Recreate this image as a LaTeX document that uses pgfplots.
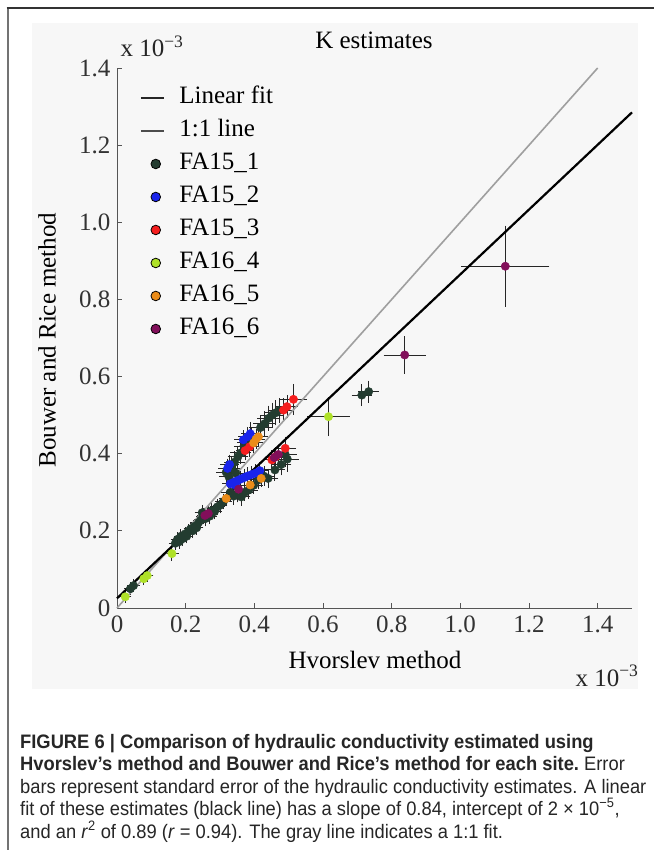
\documentclass[border=0pt]{standalone}
\usepackage{fontspec}
\setmainfont{Liberation Serif}
\newfontfamily\capfont[FakeStretch=0.94]{Liberation Sans}
\usepackage{pgfplots}
\pgfplotsset{compat=1.18}

\definecolor{panel}{RGB}{247,247,247}
\definecolor{axisgray}{RGB}{85,85,85}
\definecolor{cA}{RGB}{35,60,48}
\definecolor{cB}{RGB}{25,35,235}
\definecolor{cC}{RGB}{245,30,30}
\definecolor{cD}{RGB}{175,225,40}
\definecolor{cE}{RGB}{235,140,25}
\definecolor{cF}{RGB}{130,15,90}

% site data: Hvorslev K, Bouwer-Rice K, std errors (x 1e-3)
\pgfplotstableread{
x y ex ey
0.039 0.050 0.006 0.006
0.048 0.058 0.006 0.006
0.170 0.168 0.008 0.008
0.176 0.178 0.008 0.008
0.182 0.172 0.008 0.008
0.186 0.186 0.008 0.008
0.192 0.180 0.008 0.008
0.198 0.192 0.008 0.008
0.203 0.186 0.008 0.008
0.208 0.199 0.008 0.008
0.214 0.205 0.008 0.008
0.220 0.200 0.008 0.008
0.226 0.212 0.008 0.008
0.232 0.208 0.008 0.008
0.238 0.222 0.010 0.010
0.244 0.228 0.010 0.010
0.248 0.247 0.010 0.010
0.252 0.238 0.010 0.010
0.258 0.232 0.010 0.010
0.264 0.244 0.010 0.010
0.270 0.238 0.010 0.010
0.276 0.252 0.010 0.010
0.284 0.250 0.010 0.010
0.292 0.262 0.010 0.010
0.300 0.266 0.010 0.010
0.310 0.276 0.012 0.010
0.318 0.352 0.018 0.018
0.326 0.340 0.018 0.018
0.334 0.362 0.018 0.018
0.342 0.378 0.018 0.018
0.352 0.392 0.018 0.018
0.360 0.402 0.018 0.018
0.370 0.420 0.018 0.018
0.380 0.428 0.018 0.018
0.392 0.440 0.018 0.018
0.346 0.350 0.018 0.018
0.330 0.300 0.015 0.012
0.340 0.290 0.015 0.012
0.350 0.296 0.015 0.012
0.362 0.288 0.015 0.012
0.372 0.300 0.015 0.012
0.384 0.306 0.015 0.012
0.398 0.318 0.015 0.012
0.412 0.332 0.015 0.012
0.428 0.342 0.018 0.015
0.440 0.336 0.018 0.015
0.460 0.358 0.018 0.018
0.478 0.372 0.018 0.018
0.496 0.386 0.022 0.022
0.490 0.398 0.022 0.022
0.418 0.468 0.022 0.022
0.430 0.478 0.022 0.022
0.442 0.492 0.022 0.022
0.452 0.500 0.022 0.022
0.462 0.506 0.022 0.022
0.472 0.512 0.022 0.022
0.713 0.552 0.018 0.018
0.733 0.561 0.018 0.018
}\faA

\pgfplotstableread{
x y ex ey
0.322 0.362 0.015 0.015
0.328 0.372 0.015 0.015
0.368 0.436 0.015 0.015
0.388 0.452 0.015 0.020
0.380 0.444 0.015 0.015
0.330 0.322 0.012 0.012
0.340 0.326 0.012 0.012
0.350 0.330 0.012 0.012
0.360 0.334 0.012 0.012
0.370 0.338 0.012 0.012
0.380 0.342 0.012 0.012
0.392 0.346 0.012 0.012
0.404 0.350 0.012 0.012
0.416 0.356 0.012 0.012
0.345 0.318 0.012 0.012
}\faB

\pgfplotstableread{
x y ex ey
0.514 0.541 0.028 0.030
0.485 0.513 0.020 0.020
0.495 0.522 0.020 0.020
0.373 0.408 0.015 0.015
0.386 0.418 0.015 0.015
0.490 0.414 0.020 0.020
0.451 0.384 0.015 0.015
0.462 0.392 0.015 0.015
}\faC

\pgfplotstableread{
x y ex ey
0.024 0.029 0.006 0.006
0.078 0.076 0.006 0.006
0.088 0.084 0.006 0.006
0.160 0.141 0.008 0.008
0.616 0.496 0.050 0.040
}\faD

\pgfplotstableread{
x y ex ey
0.398 0.428 0.015 0.015
0.405 0.438 0.015 0.015
0.412 0.444 0.015 0.015
0.388 0.319 0.012 0.012
0.420 0.336 0.012 0.012
0.318 0.284 0.010 0.010
}\faE

\pgfplotstableread{
x y ex ey
1.131 0.886 0.117 0.095
0.838 0.656 0.050 0.038
0.354 0.308 0.012 0.012
0.470 0.398 0.015 0.015
0.458 0.390 0.015 0.015
0.266 0.245 0.010 0.010
0.256 0.240 0.010 0.010
}\faF

\pgfplotsset{
  site/.style={only marks, mark=*, mark size=4.2pt,
    mark options={fill=#1, draw=#1},
    error bars/.cd, x dir=both, x explicit, y dir=both, y explicit,
    error bar style={black!85, line width=0.9pt},
    error mark options={black!85, line width=0.9pt, mark size=4pt},
    /pgfplots/.cd},
  legsite/.style={only marks, mark=*, mark size=4.8pt,
    mark options={fill=#1, draw=black, line width=0.8pt},
    legend image code/.code={\draw[##1] plot coordinates {(15pt,0pt)}; \path (0pt,0pt) (38pt,0pt);}},
  shortline/.style={legend image code/.code={\draw[##1] (0pt,0pt) -- (23pt,0pt); \path (38pt,0pt);}},
}

\begin{document}
\begin{tikzpicture}
\path[use as bounding box] (0pt,0pt) rectangle (654pt,-850pt);
\fill[white] (0pt,0pt) rectangle (654pt,-850pt);
\fill[panel] (32pt,-23pt) rectangle (638pt,-689pt);
\draw[gray!90!black, line width=2pt] (7.5pt,-850pt) -- (7.5pt,-8pt);
\draw[black!80, line width=1.5pt] (6.5pt,-8pt) -- (654pt,-8pt);

\begin{axis}[
  at={(117pt,-608pt)}, anchor=south west,
  scale only axis, width=515pt, height=540pt,
  xmin=0, xmax=1.5, ymin=0, ymax=1.4,
  axis lines*=left,
  axis line style={-, draw=axisgray, line width=1pt},
  tick align=inside, major tick length=5pt,
  tick style={axisgray, line width=0.8pt},
  xtick={0,0.2,0.4,0.6,0.8,1.0,1.2,1.4},
  xticklabels={0,0.2,0.4,0.6,0.8,1.0,1.2,1.4},
  ytick={0,0.2,0.4,0.6,0.8,1.0,1.2,1.4},
  yticklabels={0,0.2,0.4,0.6,0.8,1.0,1.2,1.4},
  /pgf/number format/assume math mode=true,
  ticklabel style={font=\fontsize{25}{25}\selectfont, text=black!80},
  xticklabel style={yshift=-4pt},
  yticklabel style={xshift=-3pt},
  legend cell align=left,
  legend style={at={(0.0447,0.968)}, anchor=north west, draw=none, fill=none,
    inner sep=0pt, font=\fontsize{25}{25}\selectfont, row sep=8pt,
    nodes={text height=18pt, text depth=7pt, inner sep=0pt}},
  clip=false,
]
\addlegendimage{black!85, line width=1.1pt, shortline}
\addlegendentry{Linear fit}
\addlegendimage{black!70, line width=1.1pt, shortline}
\addlegendentry{1:1 line}
\addlegendimage{legsite=cA}\addlegendentry{FA15\_1}
\addlegendimage{legsite=cB}\addlegendentry{FA15\_2}
\addlegendimage{legsite=cC}\addlegendentry{FA15\_3}
\addlegendimage{legsite=cD}\addlegendentry{FA16\_4}
\addlegendimage{legsite=cE}\addlegendentry{FA16\_5}
\addlegendimage{legsite=cF}\addlegendentry{FA16\_6}

\addplot[forget plot, site=cA] table[x=x, y=y, x error=ex, y error=ey] {\faA};
\addplot[forget plot, site=cB] table[x=x, y=y, x error=ex, y error=ey] {\faB};
\addplot[forget plot, site=cC] table[x=x, y=y, x error=ex, y error=ey] {\faC};
\addplot[forget plot, site=cD] table[x=x, y=y, x error=ex, y error=ey] {\faD};
\addplot[forget plot, site=cE] table[x=x, y=y, x error=ex, y error=ey] {\faE};
\addplot[forget plot, site=cF] table[x=x, y=y, x error=ex, y error=ey] {\faF};

\addplot[gray!75, line width=1.6pt, forget plot] coordinates {(0,0) (1.4,1.4)};
\addplot[black, line width=2.2pt, forget plot] coordinates {(0,0.025) (1.5,1.285)};
\end{axis}

\node[font=\fontsize{25}{25}\selectfont] at (374pt,-40pt) {K estimates};
\node[font=\fontsize{25}{25}\selectfont, anchor=base west, text=black!85] at (117pt,-57pt) {x 10\textsuperscript{−3}};
\node[font=\fontsize{25}{25}\selectfont, anchor=base east, text=black!85] at (642pt,-686pt) {x 10\textsuperscript{−3}};
\node[font=\fontsize{25}{25}\selectfont] at (375pt,-660pt) {Hvorslev method};
\node[font=\fontsize{25}{25}\selectfont, rotate=90] at (47pt,-340pt) {Bouwer and Rice method};

\begin{scope}[every node/.style={anchor=base west, inner sep=0pt, font=\capfont\fontsize{19.5}{19.5}\selectfont, text=black!85}]
\node at (20pt,-748pt) {\bfseries FIGURE 6 | Comparison of hydraulic conductivity estimated using};
\node at (20pt,-770.5pt) {\bfseries Hvorslev’s method and Bouwer and Rice’s method for each site.\mdseries\ Error};
\node at (20pt,-793pt) {bars represent standard error of the hydraulic conductivity estimates. A linear};
\node at (20pt,-815.5pt) {fit of these estimates (black line) has a slope of 0.84, intercept of 2 × 10\textsuperscript{−5},};
\node at (20pt,-838pt) {and an \textit{r}\textsuperscript{2} of 0.89 (\textit{r} = 0.94). The gray line indicates a 1:1 fit.};
\end{scope}
\end{tikzpicture}
\end{document}
